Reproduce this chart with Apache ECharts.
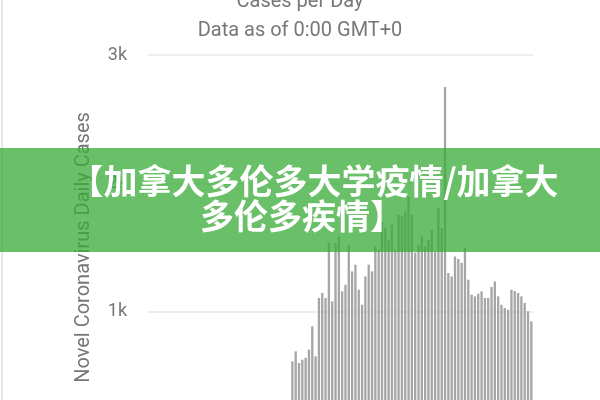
<!DOCTYPE html>
<html>
<head>
<meta charset="utf-8">
<script src="https://cdn.jsdelivr.net/npm/echarts@6/dist/echarts.min.js"></script>
<style>
html,body{margin:0;padding:0;background:#fff;overflow:hidden;}
#c{width:600px;height:460px;}
</style>
</head>
<body>
<div id="c"></div>
<script>
const titleText = 'Cases per Day';
const subtitleText = 'Data as of 0:00 GMT+0';
const yAxisName = 'Novel Coronavirus Daily Cases';
const yTicks = [0, 1000, 2000, 3000];
const bannerLine1 = '【加拿大多伦多大学疫情/加拿大';
const bannerLine2 = '多伦多疾情】';

// daily cases (early days with no visible bars, then the epidemic period)
const earlyCases = [0,0,0,0,0,0,0,0,0,0,0,0,0,0,0,0,0,0,0,0,0,0,0,0,0,0,0,0,0,0,0,0,0,0,0,0,0,0,0,0,0,0,0];
const dailyCases = [
  613, 691, 600, 626, 640, 704, 886, 652, 1107, 1146,
  1107, 1535, 1080, 1535, 1586, 1158, 1210, 1521, 1314, 1366,
  1171, 1054, 1275, 1366, 1314, 1508, 1480, 1703, 1654, 1560,
  1677, 1480, 1755, 1742, 1780, 1897, 1755, 1460, 1521, 1586,
  1508, 1560, 1638, 1470, 1807, 1651, 2750, 1301, 1275, 1430,
  1410, 1380, 1496, 1249, 1132, 1119, 1140, 1158, 1107, 1107,
  1192, 1236, 1119, 1054, 1029, 1016, 1171, 1160, 1146, 1119,
  1068, 1003, 925
];
const values = earlyCases.concat(dailyCases);
const categories = values.map((v, i) => 'Day ' + (i + 1));

const chart = echarts.init(document.getElementById('c'));
chart.setOption({
  animation: false,
  backgroundColor: '#fff',
  title: [
    {text: titleText, left: 'center', top: -13,
     textStyle: {fontSize: 20, fontWeight: 'normal', color: '#777', fontFamily: 'Roboto'}},
    {text: subtitleText, left: 'center', top: 16,
     textStyle: {fontSize: 20, fontWeight: 'normal', color: '#777', fontFamily: 'Roboto'}}
  ],
  grid: {left: 148, right: 67, top: 55, bottom: 20, containLabel: false},
  xAxis: {
    type: 'category',
    data: categories,
    axisLine: {show: false},
    axisTick: {show: false},
    axisLabel: {show: false}
  },
  yAxis: {
    type: 'value',
    min: yTicks[0],
    max: yTicks[yTicks.length - 1],
    interval: yTicks[1] - yTicks[0],
    name: yAxisName,
    nameLocation: 'middle',
    nameGap: 54,
    nameTextStyle: {fontSize: 20, color: '#777', fontFamily: 'Roboto'},
    axisLine: {show: false},
    axisTick: {show: false},
    axisLabel: {
      margin: 21, fontSize: 18, color: '#777', fontFamily: 'Roboto',
      formatter: v => v === 0 ? '0' : (v / 1000) + 'k'
    },
    splitLine: {lineStyle: {color: '#e8e8e8', width: 1.5}}
  },
  series: [{
    type: 'bar',
    data: values,
    barCategoryGap: '30%',
    itemStyle: {color: '#a6a6a6'}
  }],
  graphic: [
    {type: 'line', shape: {x1: 2, y1: 0, x2: 2, y2: 400}, style: {stroke: '#e0e0e0', lineWidth: 1.5}, z: 50},
    {type: 'rect', shape: {x: 0, y: 148, width: 600, height: 104},
     style: {fill: 'rgba(56,170,55,0.75)'}, z: 100},
    {type: 'text', x: 314, y: 181, z: 101,
     style: {text: bannerLine1, fill: '#fff', font: 'bold 34px "Noto Sans CJK SC"', align: 'center', verticalAlign: 'middle'}},
    {type: 'text', x: 302, y: 216, z: 101,
     style: {text: bannerLine2, fill: '#fff', font: 'bold 34px "Noto Sans CJK SC"', align: 'center', verticalAlign: 'middle'}}
  ]
});
</script>
</body>
</html>
